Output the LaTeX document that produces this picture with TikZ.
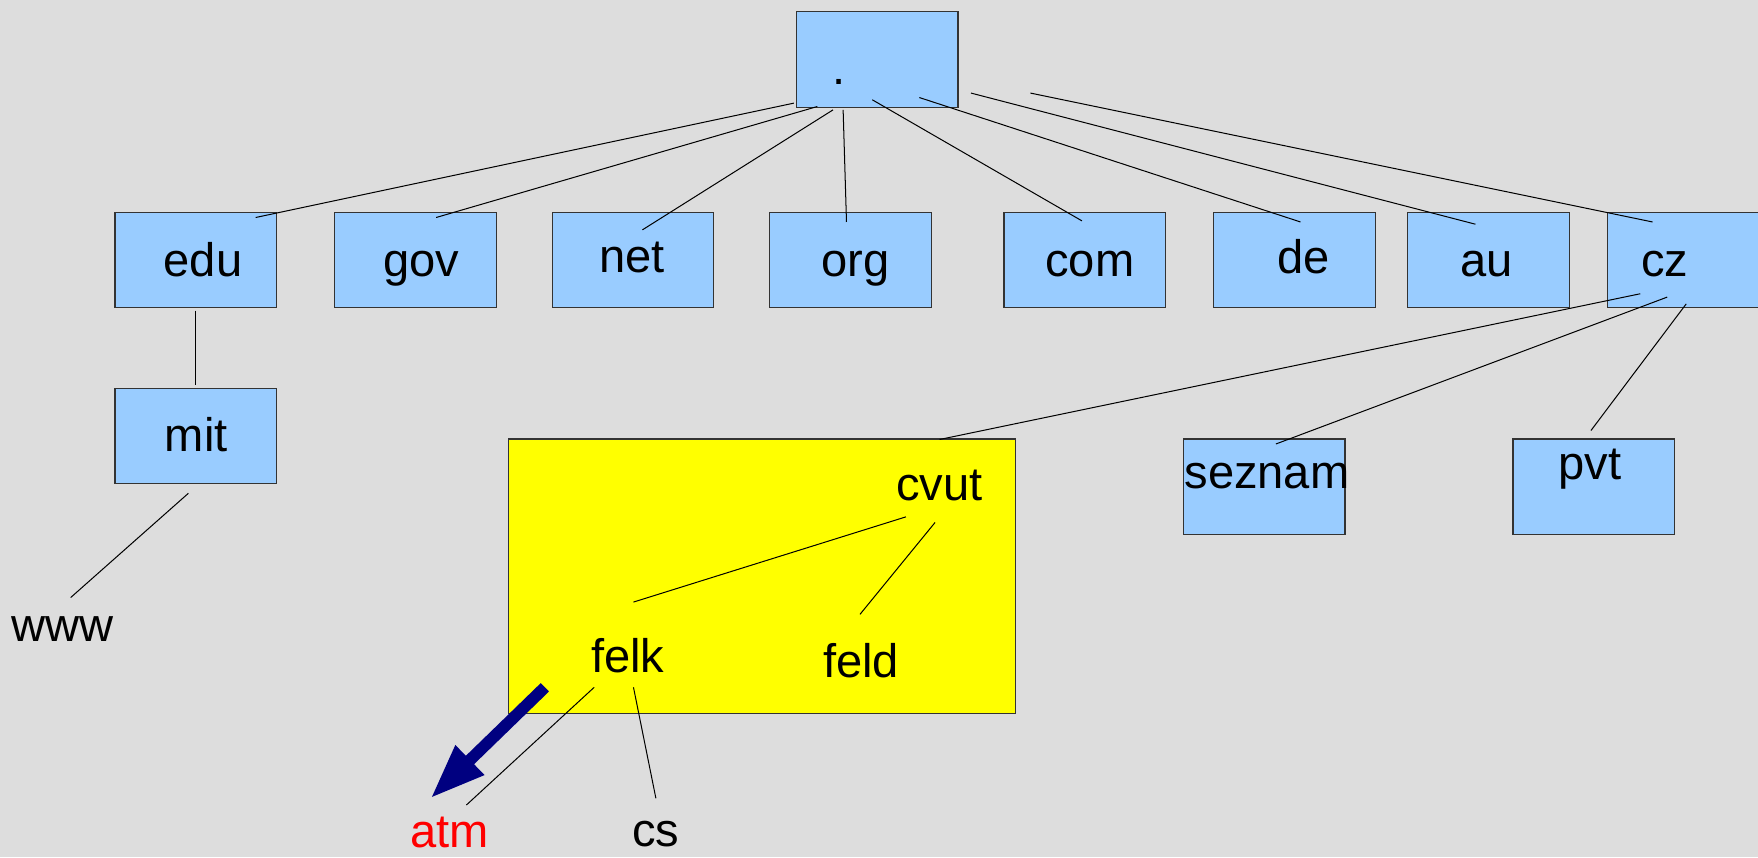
\documentclass[tikz,border=0pt]{standalone}
\usepackage{fontspec}
\setmainfont{Liberation Sans}
\usetikzlibrary{arrows.meta}
\definecolor{bg}{HTML}{DDDDDD}
\definecolor{boxblue}{HTML}{99CCFF}
\definecolor{boxyellow}{HTML}{FFFF00}
\definecolor{arrnavy}{HTML}{000080}
\definecolor{atmred}{HTML}{FF0000}
\begin{document}
\begin{tikzpicture}[x=1pt,y=-1pt,
  box/.style={draw=black!80, line width=1.1pt, fill=boxblue, inner sep=0pt,
    anchor=north west, minimum width=144pt, minimum height=85pt},
  area/.style={draw=black!80, line width=1.1pt, fill=boxyellow, inner sep=0pt,
    anchor=north west, minimum width=452pt, minimum height=245pt},
  lbl/.style={font=\fontsize{42}{50}\selectfont, inner sep=0pt, anchor=base},
  conn/.style={line width=0.9pt, black},
  bigarrow/.style={arrnavy, line width=10.5pt, -{Triangle[width=34pt,length=49pt]}}]
\fill[bg] (0,0) rectangle (1568,764.4);
\useasboundingbox (0,0) rectangle (1568,764.4);

% boxes
\node[box] (root) at (710,10) {};
\node[box] (edu) at (102,189) {};
\node[box] (gov) at (298,189) {};
\node[box] (net) at (492,189) {};
\node[box] (org) at (686,189) {};
\node[box] (com) at (895,189) {};
\node[box] (de) at (1082,189) {};
\node[box] (au) at (1255,189) {};
\node[box] (cz) at (1433,189) {};
\node[box] (mit) at (102,346) {};
\node[box] (seznam) at (1055,391) {};
\node[box] (pvt) at (1349,391) {};
\node[area] (cvutarea) at (453,391) {};

% labels
\node[lbl] (troot) at (748,75) {.};
\node[lbl] (tedu) at (181,247) {edu};
\node[lbl] (tgov) at (376,247) {gov};
\node[lbl] (tnet) at (564,243) {net};
\node[lbl] (torg) at (763,247) {org};
\node[lbl] (tcom) at (972,247) {com};
\node[lbl] (tde) at (1163,244) {de};
\node[lbl] (tau) at (1326,247) {au};
\node[lbl] (tcz) at (1485,247) {cz};
\node[lbl] (tmit) at (175,403) {mit};
\node[lbl] (tseznam) at (1130,436) {seznam};
\node[lbl] (tpvt) at (1418,428) {pvt};
\node[lbl] (tcvut) at (838,446) {cvut};
\node[lbl] (tfelk) at (560,600) {felk};
\node[lbl] (tfeld) at (768,604) {feld};
\node[lbl] (twww) at (56,572) {www};
\node[lbl, text=atmred] (tatm) at (401,756) {atm};
\node[lbl] (tcs) at (585,755) {cs};

% connector end points
\coordinate (r1a) at (708,92);  \coordinate (r1b) at (228,194);
\coordinate (r2a) at (729,95);  \coordinate (r2b) at (389,194);
\coordinate (r3a) at (743,98);  \coordinate (r3b) at (573,205);
\coordinate (r4a) at (752,98);  \coordinate (r4b) at (755,198);
\coordinate (r5a) at (778,89);  \coordinate (r5b) at (965,197);
\coordinate (r6a) at (820,87);  \coordinate (r6b) at (1160,198);
\coordinate (r7a) at (866,83);  \coordinate (r7b) at (1316,200);
\coordinate (r8a) at (919,83);  \coordinate (r8b) at (1474,198);
\coordinate (em1) at (174,277); \coordinate (em2) at (174,343);
\coordinate (mw1) at (168,440); \coordinate (mw2) at (63,533);
\coordinate (cc1) at (1463,262); \coordinate (cc2) at (838,392);
\coordinate (cs1) at (1487,265); \coordinate (cs2) at (1138,396);
\coordinate (cp1) at (1504,271); \coordinate (cp2) at (1419,384);
\coordinate (vf1) at (808,461); \coordinate (vf2) at (565,537);
\coordinate (vd1) at (834,466); \coordinate (vd2) at (767,548);
\coordinate (fa1) at (530,613); \coordinate (fa2) at (416,718);
\coordinate (fc1) at (565,613); \coordinate (fc2) at (585,712);
\coordinate (arrtail) at (486,613); \coordinate (arrtip) at (384,712);

% connectors
\draw[conn] (r1a) -- (r1b);
\draw[conn] (r2a) -- (r2b);
\draw[conn] (r3a) -- (r3b);
\draw[conn] (r4a) -- (r4b);
\draw[conn] (r5a) -- (r5b);
\draw[conn] (r6a) -- (r6b);
\draw[conn] (r7a) -- (r7b);
\draw[conn] (r8a) -- (r8b);
\draw[conn] (em1) -- (em2);
\draw[conn] (mw1) -- (mw2);
\draw[conn] (cc1) -- (cc2);
\draw[conn] (cs1) -- (cs2);
\draw[conn] (cp1) -- (cp2);
\draw[conn] (vf1) -- (vf2);
\draw[conn] (vd1) -- (vd2);
\draw[conn] (fa1) -- (fa2);
\draw[conn] (fc1) -- (fc2);
\draw[bigarrow] (arrtail) -- (arrtip);
\end{tikzpicture}
\end{document}
